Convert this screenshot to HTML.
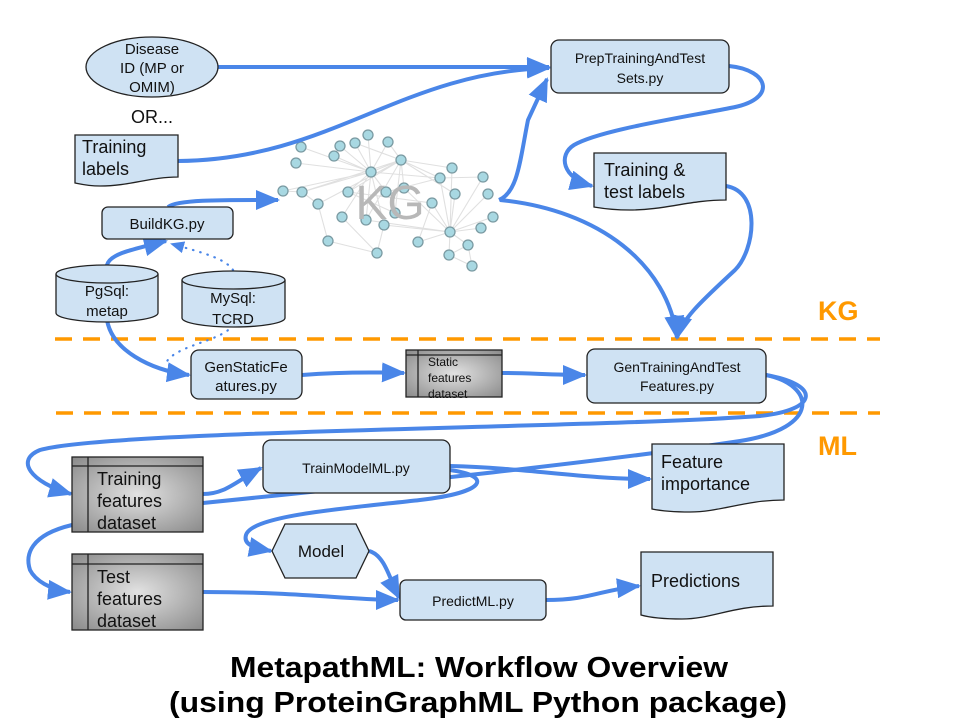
<!DOCTYPE html>
<html><head><meta charset="utf-8"><style>
html,body{margin:0;padding:0;background:#fff;}
svg{display:block;font-family:"Liberation Sans",Arial,sans-serif;}
</style></head><body>
<svg width="960" height="720" viewBox="0 0 960 720" xmlns="http://www.w3.org/2000/svg">
<defs>
<marker id="ah" markerUnits="userSpaceOnUse" markerWidth="24" markerHeight="20" refX="22" refY="10" orient="auto">
<path d="M0,0 L24,10 L0,20 Z" fill="#4a86e8"/></marker>
<marker id="ahs" markerUnits="userSpaceOnUse" markerWidth="14" markerHeight="12" refX="12" refY="6" orient="auto">
<path d="M0,0 L14,6 L0,12 Z" fill="#4a86e8"/></marker>
<radialGradient id="dg" cx="50%" cy="50%" r="70%">
<stop offset="0" stop-color="#e2e2e2"/><stop offset="1" stop-color="#8a8a8a"/></radialGradient>
</defs>

<!-- KG network -->
<g stroke="#e0e0e0" stroke-width="1.1">
<path d="M371,172 L301,147 M371,172 L296,163 M371,172 L340,146 M371,172 L334,156 M371,172 L355,143 M371,172 L368,135 M371,172 L388,142 M371,172 L283,191 M371,172 L302,192 M371,172 L348,192 M371,172 L386,192 M371,172 L342,217 M371,172 L366,220 M371,172 L384,225 M371,172 L440,178 M371,172 L401,160
M401,160 L388,142 M401,160 L355,143 M401,160 L348,192 M401,160 L366,220 M401,160 L318,204 M401,160 L452,168 M401,160 L440,178 M401,160 L404,188 M401,160 L455,194 M401,160 L395,213 M401,160 L302,192
M450,232 L440,178 M450,232 L452,168 M450,232 L483,177 M450,232 L455,194 M450,232 L488,194 M450,232 L432,203 M450,232 L493,217 M450,232 L481,228 M450,232 L418,242 M450,232 L468,245 M450,232 L449,255 M450,232 L384,225 M450,232 L366,220 M450,232 L404,188
M318,204 L328,241 M328,241 L377,253 M377,253 L342,217 M377,253 L384,225 M302,192 L318,204 M283,191 L302,192 M440,178 L483,177 M432,203 L418,242 M468,245 L472,266 M449,255 L472,266 M468,245 L449,255 M348,192 L395,213 M348,192 L432,203 M386,192 L440,178"/>
</g>
<g fill="#a8d8e2" stroke="#7a9aa2" stroke-width="1.3">
<circle cx="301" cy="147" r="5"/><circle cx="296" cy="163" r="5"/><circle cx="340" cy="146" r="5"/><circle cx="334" cy="156" r="5"/><circle cx="355" cy="143" r="5"/><circle cx="368" cy="135" r="5"/><circle cx="388" cy="142" r="5"/><circle cx="401" cy="160" r="5"/><circle cx="371" cy="172" r="5"/><circle cx="283" cy="191" r="5"/><circle cx="302" cy="192" r="5"/><circle cx="318" cy="204" r="5"/><circle cx="348" cy="192" r="5"/><circle cx="386" cy="192" r="5"/><circle cx="404" cy="188" r="5"/><circle cx="342" cy="217" r="5"/><circle cx="366" cy="220" r="5"/><circle cx="384" cy="225" r="5"/><circle cx="395" cy="213" r="5"/><circle cx="328" cy="241" r="5"/><circle cx="377" cy="253" r="5"/><circle cx="452" cy="168" r="5"/><circle cx="440" cy="178" r="5"/><circle cx="483" cy="177" r="5"/><circle cx="455" cy="194" r="5"/><circle cx="488" cy="194" r="5"/><circle cx="432" cy="203" r="5"/><circle cx="493" cy="217" r="5"/><circle cx="481" cy="228" r="5"/><circle cx="450" cy="232" r="5"/><circle cx="418" cy="242" r="5"/><circle cx="468" cy="245" r="5"/><circle cx="449" cy="255" r="5"/><circle cx="472" cy="266" r="5"/>
</g>
<text x="390" y="219" font-size="48" fill="#b8b8b8" text-anchor="middle">KG</text>

<!-- dashed separators -->
<g stroke="#ff9900" stroke-width="3.5" stroke-dasharray="17,11">
<line x1="55" y1="339" x2="880" y2="339"/>
<line x1="56" y1="413" x2="880" y2="413"/>
</g>
<text x="818" y="320" font-size="27" font-weight="bold" fill="#ff9900">KG</text>
<text x="818" y="455" font-size="27" font-weight="bold" fill="#ff9900">ML</text>

<!-- connectors -->
<g fill="none" stroke="#4a86e8" stroke-width="4">
<path d="M218,67 L549,67" marker-end="url(#ah)"/>
<path d="M178,161 C330,160 400,72 549,68" marker-end="url(#ah)"/>
<path d="M499,200 C518,192 520,160 528,120 L547,79" marker-end="url(#ah)"/>
<path d="M500,200 C600,210 668,265 677,338" marker-end="url(#ah)"/>
<path d="M729,66 C770,70 778,100 730,108 C680,118 600,130 574,145 C558,155 562,178 592,186" marker-end="url(#ah)"/>
<path d="M726,186 C762,192 755,250 735,270 C705,298 682,318 677,338" marker-end="url(#ah)"/>
<path d="M168,207 C178,199 230,200 278,200" marker-end="url(#ah)"/>
<path d="M107,265 C110,254 130,250 166,241" marker-end="url(#ah)"/>
<path d="M107,320 C112,350 150,370 189,375" marker-end="url(#ah)"/>
<path d="M302,375 C340,372 370,372 404,373" marker-end="url(#ah)"/>
<path d="M502,373 C530,373 550,375 585,375" marker-end="url(#ah)"/>
<path d="M766,375 C822,385 818,410 760,416 C600,428 110,430 40,450 C15,460 30,482 71,494" marker-end="url(#ah)"/>
<path d="M766,375 C815,385 822,428 740,441 C600,462 400,483 203,503"/>
<path d="M203,494 C225,494 235,482 261,468" marker-end="url(#ah)"/>
<path d="M450,466 C530,468 580,479 650,479" marker-end="url(#ah)"/>
<path d="M450,470 C492,476 488,492 420,500 C350,508 252,515 246,535 C243,545 255,548 271,551" marker-end="url(#ah)"/>
<path d="M72,525 C30,535 25,555 30,570 C35,580 50,590 70,592" marker-end="url(#ah)"/>
<path d="M203,592 C300,592 350,600 398,600" marker-end="url(#ah)"/>
<path d="M369,551 C385,555 390,580 399,598" marker-end="url(#ah)"/>
<path d="M546,600 C590,600 600,590 639,586" marker-end="url(#ah)"/>
</g>
<g fill="none" stroke="#4a86e8" stroke-width="2.2" stroke-dasharray="0.5,7" stroke-linecap="round">
<path d="M233,270 C225,258 200,252 172,244" marker-end="url(#ahs)"/>
<path d="M233,325 C222,342 172,345 165,365"/>
</g>

<!-- nodes -->
<g stroke="#222" stroke-width="1.3" fill="#cfe2f3">
<ellipse cx="152" cy="67" rx="66" ry="30"/>
<path d="M75,135 H178 V177 C150,177 130,186 100,186 C88,186 80,184 75,183 Z"/>
<rect x="102" y="207" width="131" height="32" rx="6"/>
<path d="M56,274 V313 A51,9 0 0 0 158,313 V274"/>
<ellipse cx="107" cy="274" rx="51" ry="9"/>
<path d="M182,280 V318 A51.5,9 0 0 0 285,318 V280"/>
<ellipse cx="233.5" cy="280" rx="51.5" ry="9"/>
<rect x="551" y="40" width="178" height="53" rx="8"/>
<path d="M594,153 H726 V200 C690,200 665,210 630,210 C610,210 600,208 594,207 Z"/>
<rect x="191" y="350" width="111" height="49" rx="8"/>
<rect x="587" y="349" width="179" height="54" rx="8"/>
<rect x="263" y="440" width="187" height="53" rx="8"/>
<path d="M652,444 H784 V500 C745,500 720,512 690,512 C670,512 657,510 652,509 Z"/>
<path d="M272,551 L285,524 L356,524 L369,551 L356,578 L285,578 Z"/>
<rect x="400" y="580" width="146" height="40" rx="6"/>
<path d="M641,552 H773 V606 C732,606 712,619 682,619 C662,619 648,617 641,615 Z"/>
</g>
<!-- datasets -->
<g stroke="#222" stroke-width="1.3">
<rect x="406" y="350" width="96" height="47" fill="url(#dg)"/>
<path d="M406,355 H502 M418,350 V397" fill="none"/>
<rect x="72" y="457" width="131" height="75" fill="url(#dg)"/>
<path d="M72,466 H203 M88,457 V532" fill="none"/>
<rect x="72" y="554" width="131" height="76" fill="url(#dg)"/>
<path d="M72,564 H203 M88,554 V630" fill="none"/>
</g>

<!-- labels -->
<g fill="#111" font-size="15" text-anchor="middle">
<text x="152" y="54">Disease</text>
<text x="152" y="73">ID (MP or</text>
<text x="152" y="92">OMIM)</text>
<text x="152" y="123" font-size="18">OR...</text>
<text x="167" y="229">BuildKG.py</text>
<text x="107" y="296">PgSql:</text>
<text x="107" y="316">metap</text>
<text x="233" y="303">MySql:</text>
<text x="233" y="324">TCRD</text>
<text x="640" y="63" font-size="14">PrepTrainingAndTest</text>
<text x="640" y="83" font-size="14">Sets.py</text>
<text x="246" y="372">GenStaticFe</text>
<text x="246" y="391">atures.py</text>
<text x="677" y="372" font-size="14">GenTrainingAndTest</text>
<text x="677" y="391" font-size="14">Features.py</text>
<text x="356" y="473" font-size="14">TrainModelML.py</text>
<text x="321" y="557" font-size="17">Model</text>
<text x="473" y="606" font-size="14">PredictML.py</text>
</g>
<g fill="#111" font-size="18">
<text x="82" y="153">Training</text>
<text x="82" y="175">labels</text>
<text x="604" y="176">Training &amp;</text>
<text x="604" y="198">test labels</text>
<text x="661" y="468">Feature</text>
<text x="661" y="490">importance</text>
<text x="651" y="587">Predictions</text>
<text x="97" y="485">Training</text>
<text x="97" y="507">features</text>
<text x="97" y="529">dataset</text>
<text x="97" y="583">Test</text>
<text x="97" y="605">features</text>
<text x="97" y="627">dataset</text>
</g>
<g fill="#111" font-size="12">
<text x="428" y="366">Static</text>
<text x="428" y="382">features</text>
<text x="428" y="398">dataset</text>
</g>
<g fill="#000" font-size="29" font-weight="bold" text-anchor="middle">
<text x="479" y="677" textLength="498" lengthAdjust="spacingAndGlyphs">MetapathML: Workflow Overview</text>
<text x="478" y="712" textLength="618" lengthAdjust="spacingAndGlyphs">(using ProteinGraphML Python package)</text>
</g>
</svg>
</body></html>
